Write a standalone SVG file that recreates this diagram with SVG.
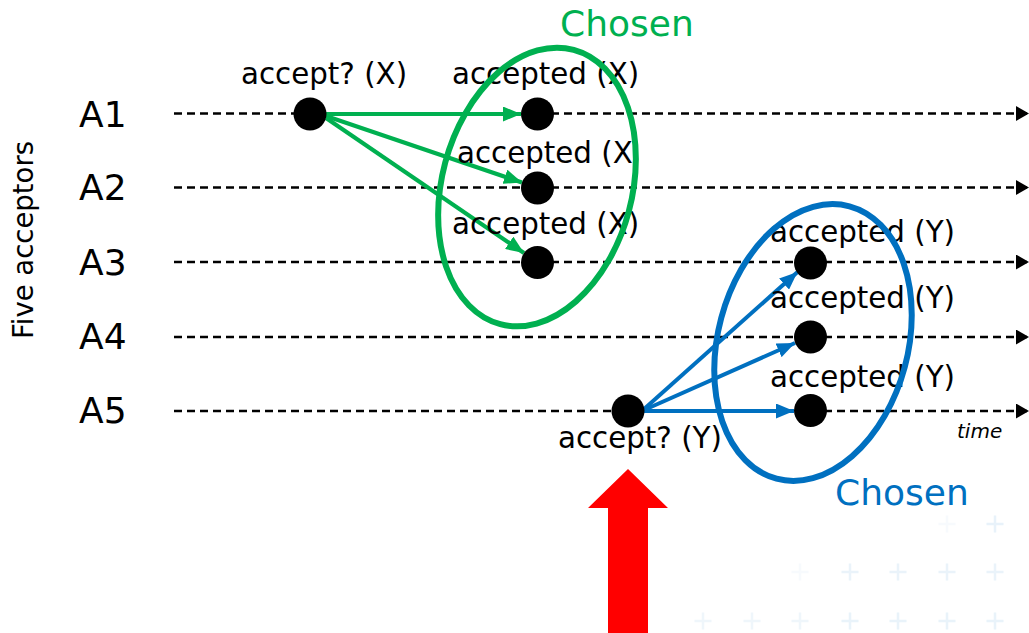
<svg xmlns="http://www.w3.org/2000/svg" width="1029" height="633" viewBox="0 0 1029 633">
  <style>
    text { font-family: "DejaVu Sans", Verdana, sans-serif; fill: #000; }
    .row { font-size: 36px; }
    .lbl { font-size: 29.3px; }
    .chosen { font-size: 36px; }
    .time { font-size: 20px; font-style: italic; }
    .axis { stroke: #000; stroke-width: 2.6; stroke-dasharray: 8 5; fill: none; }
    .node { fill: #000; }
    .g { stroke: #00B050; stroke-width: 4.2; fill: none; }
    .b { stroke: #0070C0; stroke-width: 4; fill: none; }
    .plus { stroke: #e6f1fa; stroke-width: 2.5; }
  </style>
  <defs>
    <marker id="headK" viewBox="0 0 13 15" refX="13" refY="7.5" markerWidth="13" markerHeight="15" markerUnits="userSpaceOnUse" orient="auto">
      <path d="M0,0 L13,7.5 L0,15 Z" fill="#000"/>
    </marker>
    <marker id="headG" viewBox="0 0 18 15" refX="18" refY="7.5" markerWidth="18" markerHeight="15" markerUnits="userSpaceOnUse" orient="auto">
      <path d="M0,0 L18,7.5 L0,15 Z" fill="#00B050"/>
    </marker>
    <marker id="headB" viewBox="0 0 18 15" refX="18" refY="7.5" markerWidth="18" markerHeight="15" markerUnits="userSpaceOnUse" orient="auto">
      <path d="M0,0 L18,7.5 L0,15 Z" fill="#0070C0"/>
    </marker>
  </defs>

  <!-- faint background crosses -->
  <g id="backdrop">
    <g class="plus" opacity="0.9">
      <path d="M986.5,524h17M995,515.5v17"/>
    </g>
    <g class="plus" opacity="0.3">
      <path d="M938.5,524h17M947,515.5v17"/>
      <path d="M791.5,572h17M800,563.5v17"/>
    </g>
    <g class="plus" opacity="0.8">
      <path d="M841.5,572h17M850,563.5v17"/>
      <path d="M889.5,572h17M898,563.5v17"/>
      <path d="M938.5,572h17M947,563.5v17"/>
      <path d="M986.5,572h17M995,563.5v17"/>
    </g>
    <g class="plus" opacity="0.6">
      <path d="M694.5,621h17M703,612.5v17"/>
      <path d="M743.5,621h17M752,612.5v17"/>
      <path d="M791.5,621h17M800,612.5v17"/>
    </g>
    <g class="plus" opacity="0.85">
      <path d="M841.5,621h17M850,612.5v17"/>
      <path d="M889.5,621h17M898,612.5v17"/>
      <path d="M938.5,621h17M947,612.5v17"/>
      <path d="M986.5,621h17M995,612.5v17"/>
    </g>
  </g>

  <!-- acceptor time lines -->
  <g id="timelines">
    <line class="axis" x1="174" y1="113.5" x2="1029" y2="113.5" marker-end="url(#headK)"/>
    <line class="axis" x1="174" y1="187.5" x2="1029" y2="187.5" marker-end="url(#headK)"/>
    <line class="axis" x1="174" y1="262" x2="1029" y2="262" marker-end="url(#headK)"/>
    <line class="axis" x1="174" y1="337" x2="1029" y2="337" marker-end="url(#headK)"/>
    <line class="axis" x1="174" y1="411" x2="1029" y2="411" marker-end="url(#headK)"/>
  </g>

  <!-- axis labels -->
  <g id="labels">
    <text x="0" y="0" font-size="27.5" text-anchor="middle" transform="translate(33,240) rotate(-90)">Five acceptors</text>
    <text class="row" x="79" y="127">A1</text>
    <text class="row" x="79" y="200">A2</text>
    <text class="row" x="79" y="275">A3</text>
    <text class="row" x="79" y="349">A4</text>
    <text class="row" x="79" y="423">A5</text>
    <text class="time" x="957" y="438">time</text>
  </g>

  <!-- messages -->
  <g id="connectors">
    <line class="g" x1="326" y1="114" x2="521" y2="114" marker-end="url(#headG)"/>
    <line class="g" x1="326" y1="116" x2="522" y2="182.5" marker-end="url(#headG)"/>
    <line class="g" x1="326" y1="118" x2="524" y2="253" marker-end="url(#headG)"/>
    <line class="b" x1="643" y1="410" x2="797.5" y2="272" marker-end="url(#headB)"/>
    <line class="b" x1="643" y1="410.5" x2="795" y2="343" marker-end="url(#headB)"/>
    <line class="b" x1="643" y1="411" x2="794" y2="411" marker-end="url(#headB)"/>
  </g>

  <!-- proposal X -->
  <g id="propose-x">
    <circle class="node" cx="310" cy="114" r="16.5"/>
    <text class="lbl" x="241" y="84">accept? (X)</text>
  </g>
  <g id="a1-accepted">
    <circle class="node" cx="537.5" cy="114" r="16.5"/>
    <text class="lbl" x="452" y="84">accepted (X)</text>
  </g>
  <g id="a2-accepted">
    <circle class="node" cx="537.5" cy="188" r="16.5"/>
    <text class="lbl" x="457" y="163">accepted (X</text>
  </g>
  <g id="a3-accepted">
    <circle class="node" cx="537.5" cy="262.5" r="16.5"/>
    <text class="lbl" x="452" y="234">accepted (X)</text>
  </g>

  <!-- proposal Y -->
  <g id="propose-y">
    <circle class="node" cx="628" cy="411" r="16.5"/>
    <text class="lbl" x="558" y="448">accept? (Y)</text>
  </g>
  <g id="a3-accepted-y">
    <circle class="node" cx="810.5" cy="263" r="16.5"/>
    <text class="lbl" x="770" y="242">accepted (Y)</text>
  </g>
  <g id="a4-accepted-y">
    <circle class="node" cx="810.5" cy="337" r="16.5"/>
    <text class="lbl" x="770" y="308">accepted (Y)</text>
  </g>
  <g id="a5-accepted-y">
    <circle class="node" cx="810.5" cy="410.5" r="16.5"/>
    <text class="lbl" x="770" y="387">accepted (Y)</text>
  </g>

  <!-- chosen majorities -->
  <g id="chosen-x">
    <ellipse cx="537" cy="187" rx="95" ry="142" transform="rotate(15 537 187)" fill="none" stroke="#00B050" stroke-width="6"/>
    <text class="chosen" x="560" y="36" style="fill:#00B050">Chosen</text>
  </g>
  <g id="chosen-y">
    <ellipse cx="813" cy="342.5" rx="95" ry="141" transform="rotate(15 813 342.5)" fill="none" stroke="#0070C0" stroke-width="6"/>
    <text class="chosen" x="835" y="505" style="fill:#0070C0">Chosen</text>
  </g>

  <!-- pointer -->
  <g id="pointer">
    <path d="M628,469 L668,508 L648,508 L648,633 L608,633 L608,508 L588,508 Z" fill="#FF0000"/>
  </g>
</svg>
